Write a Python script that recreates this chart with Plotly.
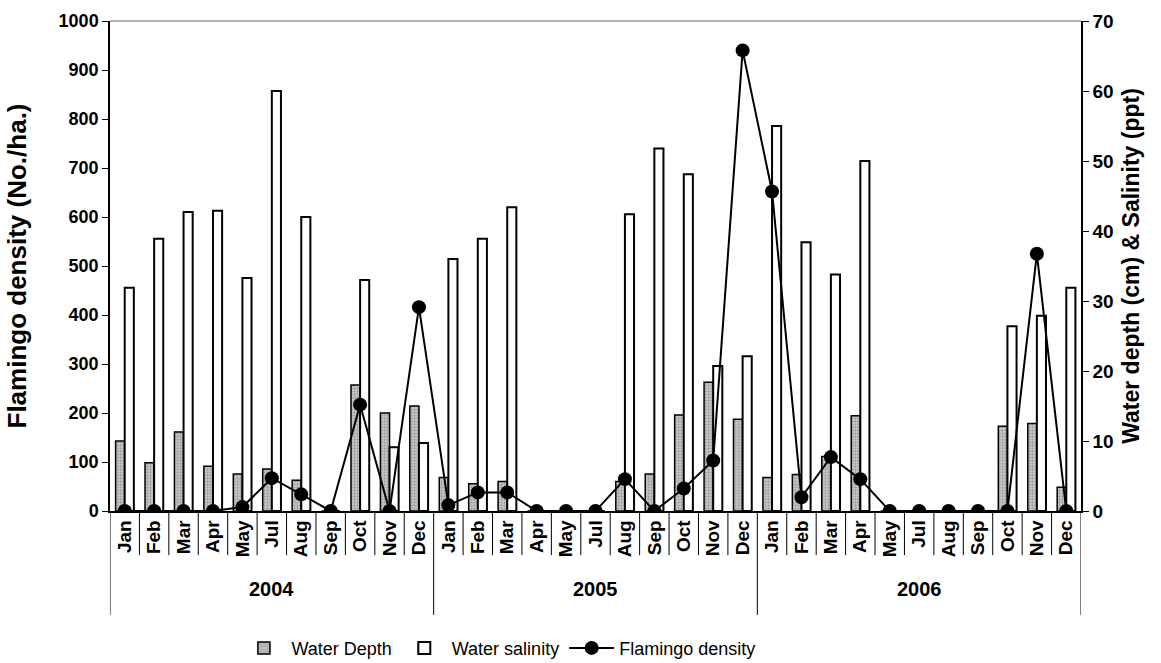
import plotly.graph_objects as go

# Sampling months and years
months = ["Jan", "Feb", "Mar", "Apr", "May", "Jul", "Aug", "Sep", "Oct", "Nov", "Dec"]
years = ["2004", "2005", "2006"]

# Water depth (cm)
water_depth = [10.0, 6.9, 11.3, 6.4, 5.3, 6.0, 4.4, 0, 18.0, 14.0, 15.0,
               4.8, 3.9, 4.2, 0, 0, 0, 4.2, 5.3, 13.7, 18.4, 13.1,
               4.8, 5.2, 7.8, 13.6, 0, 0, 0, 0, 12.1, 12.5, 3.4]
# Water salinity (ppt)
water_salinity = [31.9, 38.9, 42.7, 42.9, 33.3, 60.0, 42.0, 0, 33.0, 9.1, 9.7,
                  36.0, 38.9, 43.4, 0, 0, 0, 42.4, 51.8, 48.1, 20.7, 22.1,
                  55.0, 38.4, 33.8, 50.0, 0, 0, 0, 0, 26.4, 27.9, 31.9]
# Flamingo density (No./ha.)
flamingo_density = [0, 0, 0, 0, 8, 67, 34, 0, 217, 0, 416,
                    12, 38, 38, 0, 0, 0, 65, 0, 46, 103, 940,
                    652, 28, 110, 65, 0, 0, 0, 0, 0, 525, 0]

n = len(months) * len(years)
xs = list(range(n))
month_labels = months * len(years)

FONT = "Liberation Sans, Arial, sans-serif"


def bold(size):
    return dict(family=FONT, size=size, color="black", weight="bold")


fig = go.Figure()

# bars use the primary axis (drawn on the right) so the density line sits on top
fig.add_trace(go.Bar(
    x=xs, y=water_depth, name="Water Depth", yaxis="y",
    marker=dict(color="#c4c4c4",
                line=dict(color="black", width=1.5),
                pattern=dict(shape=".", fgcolor="#6e6e6e", size=3, solidity=0.35)),
))
fig.add_trace(go.Bar(
    x=xs, y=water_salinity, name="Water salinity", yaxis="y",
    marker=dict(color="white", line=dict(color="black", width=2)),
))
fig.add_trace(go.Scatter(
    x=xs, y=flamingo_density, name="Flamingo density", mode="lines+markers",
    yaxis="y2",
    line=dict(color="black", width=2),
    marker=dict(color="black", size=14, symbol="circle"),
))

shapes = []
# category dividers under the axis
for k in range(n + 1):
    edge = k - 0.5
    is_year_edge = (k % len(months) == 0)
    shapes.append(dict(type="line", xref="x", yref="paper",
                       x0=edge, x1=edge, y0=0,
                       y1=-0.212 if is_year_edge else -0.09,
                       line=dict(color="black", width=1)))
# top frame line
shapes.append(dict(type="line", xref="paper", yref="paper", x0=0, x1=1, y0=1, y1=1,
                   line=dict(color="#999999", width=1.5)))

annotations = []
for i, yr in enumerate(years):
    center = i * len(months) + (len(months) - 1) / 2
    annotations.append(dict(x=center, y=-0.159, xref="x", yref="paper",
                            text=yr, showarrow=False, font=bold(20),
                            xanchor="center", yanchor="middle"))

fig.update_layout(
    width=1161, height=663,
    margin=dict(l=110, r=80, t=21, b=152, autoexpand=False),
    paper_bgcolor="white", plot_bgcolor="white",
    barmode="group", bargap=0.38, bargroupgap=0,
    font=dict(family=FONT, color="black"),
    showlegend=True,
    legend=dict(orientation="h", x=0.40, xanchor="center", y=-0.28, yanchor="middle",
                font=dict(family=FONT, size=18, color="black"),
                traceorder="normal", itemwidth=45, tracegroupgap=0),
    xaxis=dict(range=[-0.5, n - 0.5], tickmode="array", tickvals=xs,
               ticktext=month_labels,
               tickangle=-90, ticks="", showgrid=False, zeroline=False,
               showline=True, linecolor="black", linewidth=1.5,
               tickfont=bold(19), automargin=False),
    yaxis=dict(range=[0, 70], dtick=10, side="right",
               ticks="outside", ticklen=6, tickcolor="black",
               showgrid=False, zeroline=False,
               showline=True, linecolor="black", linewidth=1.5,
               tickfont=bold(19), automargin=False,
               title=dict(text="Water depth (cm) & Salinity (ppt)",
                          font=bold(23), standoff=10)),
    yaxis2=dict(range=[0, 1000], dtick=100, overlaying="y", side="left",
                ticks="outside", ticklen=6, tickcolor="black",
                showgrid=False, zeroline=False,
                showline=True, linecolor="black", linewidth=1.5,
                tickformat="d", tickfont=bold(18), automargin=False,
                title=dict(text="Flamingo density (No./ha.)",
                           font=bold(26), standoff=25)),
    shapes=shapes, annotations=annotations,
)

fig.write_html("out.html")
